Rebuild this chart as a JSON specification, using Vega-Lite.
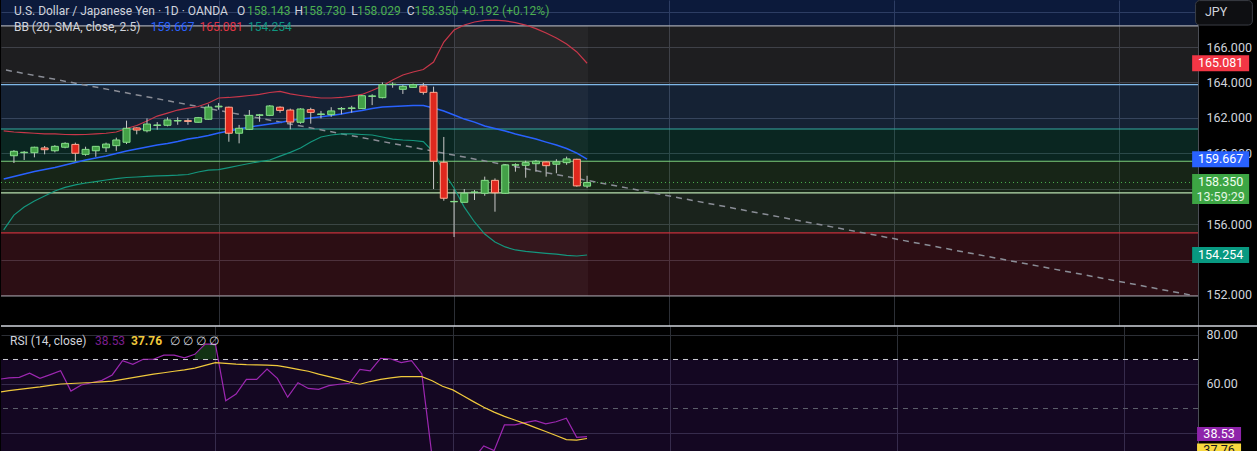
{
  "$schema": "https://vega.github.io/schema/vega-lite/v6.json",
  "background": "#000000",
  "padding": 0,
  "spacing": 0,
  "bounds": "flush",
  "config": {
    "font": "Roboto",
    "view": {"stroke": null}
  },
  "datasets": {
    "zones": [
      {"zone": "z1", "lo": 167.19, "hi": 168.654},
      {"zone": "z2", "lo": 163.88, "hi": 167.19},
      {"zone": "z3", "lo": 161.37, "hi": 163.88},
      {"zone": "z4", "lo": 159.55, "hi": 161.37},
      {"zone": "z5", "lo": 157.76, "hi": 159.55},
      {"zone": "z6", "lo": 155.50, "hi": 157.76},
      {"zone": "z7", "lo": 151.94, "hi": 155.50}
    ],
    "levels": [
      {"name": "b1", "level": 167.19},
      {"name": "b2", "level": 163.88},
      {"name": "b3", "level": 161.37},
      {"name": "b4", "level": 159.55},
      {"name": "b5", "level": 157.76},
      {"name": "b6", "level": 155.50},
      {"name": "b7", "level": 151.94}
    ],
    "trend": [
      {"i": -0.775, "p": 164.70},
      {"i": 115.2, "p": 151.97}
    ],
    "candles": [
      {"i": 0, "o": 159.86, "h": 160.18, "l": 159.45, "c": 160.11},
      {"i": 1, "o": 160.03, "h": 160.13, "l": 159.62, "c": 160.06},
      {"i": 2, "o": 160.03, "h": 160.37, "l": 159.77, "c": 160.34},
      {"i": 3, "o": 160.30, "h": 160.41, "l": 159.94, "c": 160.20},
      {"i": 4, "o": 160.14, "h": 160.46, "l": 160.05, "c": 160.39},
      {"i": 5, "o": 160.34, "h": 160.62, "l": 160.28, "c": 160.56},
      {"i": 6, "o": 160.50, "h": 160.60, "l": 159.56, "c": 160.00},
      {"i": 7, "o": 159.94, "h": 160.37, "l": 159.86, "c": 160.22},
      {"i": 8, "o": 160.14, "h": 160.41, "l": 159.80, "c": 160.39},
      {"i": 9, "o": 160.31, "h": 160.60, "l": 160.07, "c": 160.52},
      {"i": 10, "o": 160.43, "h": 160.88, "l": 160.14, "c": 160.75},
      {"i": 11, "o": 160.62, "h": 161.84, "l": 160.52, "c": 161.41},
      {"i": 12, "o": 161.43, "h": 161.46, "l": 161.07, "c": 161.31},
      {"i": 13, "o": 161.27, "h": 161.97, "l": 161.18, "c": 161.65},
      {"i": 14, "o": 161.57, "h": 161.76, "l": 161.33, "c": 161.60},
      {"i": 15, "o": 161.58, "h": 162.03, "l": 161.52, "c": 161.88},
      {"i": 16, "o": 161.82, "h": 162.03, "l": 161.61, "c": 161.85},
      {"i": 17, "o": 161.84, "h": 161.97, "l": 161.61, "c": 161.80},
      {"i": 18, "o": 161.75, "h": 162.05, "l": 161.73, "c": 162.01},
      {"i": 19, "o": 161.92, "h": 162.76, "l": 161.90, "c": 162.61},
      {"i": 20, "o": 162.62, "h": 162.84, "l": 162.46, "c": 162.66},
      {"i": 21, "o": 162.60, "h": 162.63, "l": 160.65, "c": 161.13},
      {"i": 22, "o": 161.13, "h": 161.60, "l": 160.56, "c": 161.41},
      {"i": 23, "o": 161.35, "h": 162.44, "l": 161.31, "c": 162.14},
      {"i": 24, "o": 162.14, "h": 162.22, "l": 161.78, "c": 162.17},
      {"i": 25, "o": 162.14, "h": 162.72, "l": 162.10, "c": 162.67},
      {"i": 26, "o": 162.60, "h": 162.65, "l": 162.29, "c": 162.42},
      {"i": 27, "o": 162.44, "h": 162.52, "l": 161.35, "c": 161.76},
      {"i": 28, "o": 161.75, "h": 162.54, "l": 161.67, "c": 162.50},
      {"i": 29, "o": 162.46, "h": 162.57, "l": 161.67, "c": 162.31},
      {"i": 30, "o": 162.19, "h": 162.39, "l": 161.97, "c": 162.22},
      {"i": 31, "o": 162.18, "h": 162.60, "l": 162.06, "c": 162.39},
      {"i": 32, "o": 162.50, "h": 162.61, "l": 162.20, "c": 162.53},
      {"i": 33, "o": 162.53, "h": 162.68, "l": 162.29, "c": 162.56},
      {"i": 34, "o": 162.52, "h": 163.29, "l": 162.50, "c": 163.25},
      {"i": 35, "o": 163.21, "h": 163.33, "l": 162.72, "c": 163.24},
      {"i": 36, "o": 163.14, "h": 164.00, "l": 163.10, "c": 163.87},
      {"i": 37, "o": 163.88, "h": 164.00, "l": 163.70, "c": 163.90},
      {"i": 38, "o": 163.61, "h": 163.85, "l": 163.35, "c": 163.78},
      {"i": 39, "o": 163.72, "h": 163.93, "l": 163.70, "c": 163.87},
      {"i": 40, "o": 163.80, "h": 163.97, "l": 163.31, "c": 163.44},
      {"i": 41, "o": 163.44, "h": 163.76, "l": 157.98, "c": 159.55},
      {"i": 42, "o": 159.49, "h": 160.92, "l": 157.32, "c": 157.46},
      {"i": 43, "o": 157.26, "h": 157.96, "l": 155.27, "c": 157.28},
      {"i": 44, "o": 157.23, "h": 157.98, "l": 157.23, "c": 157.74},
      {"i": 45, "o": 157.79, "h": 157.92, "l": 157.36, "c": 157.81},
      {"i": 46, "o": 157.74, "h": 158.68, "l": 157.60, "c": 158.47},
      {"i": 47, "o": 158.47, "h": 158.58, "l": 156.70, "c": 157.77},
      {"i": 48, "o": 157.74, "h": 159.39, "l": 157.70, "c": 159.34},
      {"i": 49, "o": 159.33, "h": 159.43, "l": 158.96, "c": 159.35},
      {"i": 50, "o": 159.32, "h": 159.58, "l": 158.62, "c": 159.47},
      {"i": 51, "o": 159.41, "h": 159.62, "l": 158.96, "c": 159.55},
      {"i": 52, "o": 159.51, "h": 159.55, "l": 158.68, "c": 159.30},
      {"i": 53, "o": 159.38, "h": 159.66, "l": 158.87, "c": 159.52},
      {"i": 54, "o": 159.47, "h": 159.81, "l": 159.35, "c": 159.68},
      {"i": 55, "o": 159.66, "h": 159.69, "l": 158.11, "c": 158.158},
      {"i": 56, "o": 158.143, "h": 158.730, "l": 158.029, "c": 158.350}
    ],
    "bb": [
      {"i": -1, "u": 161.26, "m": 158.55, "l": 155.67},
      {"i": 0, "u": 161.20, "m": 158.69, "l": 156.51},
      {"i": 1, "u": 161.16, "m": 158.83, "l": 156.96},
      {"i": 2, "u": 161.13, "m": 158.97, "l": 157.30},
      {"i": 3, "u": 161.10, "m": 159.08, "l": 157.59},
      {"i": 4, "u": 161.09, "m": 159.20, "l": 157.87},
      {"i": 5, "u": 161.06, "m": 159.34, "l": 158.07},
      {"i": 6, "u": 161.05, "m": 159.48, "l": 158.21},
      {"i": 7, "u": 161.06, "m": 159.62, "l": 158.32},
      {"i": 8, "u": 161.09, "m": 159.73, "l": 158.40},
      {"i": 9, "u": 161.13, "m": 159.84, "l": 158.49},
      {"i": 10, "u": 161.20, "m": 159.99, "l": 158.57},
      {"i": 11, "u": 161.40, "m": 160.13, "l": 158.63},
      {"i": 12, "u": 161.57, "m": 160.24, "l": 158.66},
      {"i": 13, "u": 161.82, "m": 160.35, "l": 158.69},
      {"i": 14, "u": 162.10, "m": 160.47, "l": 158.72},
      {"i": 15, "u": 162.27, "m": 160.55, "l": 158.74},
      {"i": 16, "u": 162.44, "m": 160.66, "l": 158.76},
      {"i": 17, "u": 162.55, "m": 160.80, "l": 158.80},
      {"i": 18, "u": 162.64, "m": 160.89, "l": 158.94},
      {"i": 19, "u": 162.84, "m": 161.00, "l": 159.05},
      {"i": 20, "u": 163.12, "m": 161.14, "l": 159.08},
      {"i": 21, "u": 163.15, "m": 161.26, "l": 159.19},
      {"i": 22, "u": 163.20, "m": 161.37, "l": 159.31},
      {"i": 23, "u": 163.26, "m": 161.48, "l": 159.42},
      {"i": 24, "u": 163.32, "m": 161.57, "l": 159.53},
      {"i": 25, "u": 163.43, "m": 161.65, "l": 159.62},
      {"i": 26, "u": 163.49, "m": 161.74, "l": 159.84},
      {"i": 27, "u": 163.35, "m": 161.85, "l": 160.05},
      {"i": 28, "u": 163.26, "m": 161.93, "l": 160.30},
      {"i": 29, "u": 163.18, "m": 161.99, "l": 160.64},
      {"i": 30, "u": 163.12, "m": 162.06, "l": 160.92},
      {"i": 31, "u": 163.12, "m": 162.13, "l": 161.03},
      {"i": 32, "u": 163.15, "m": 162.22, "l": 161.09},
      {"i": 33, "u": 163.23, "m": 162.33, "l": 161.09},
      {"i": 34, "u": 163.32, "m": 162.41, "l": 161.06},
      {"i": 35, "u": 163.54, "m": 162.53, "l": 161.03},
      {"i": 36, "u": 163.80, "m": 162.61, "l": 160.92},
      {"i": 37, "u": 164.14, "m": 162.64, "l": 160.80},
      {"i": 38, "u": 164.42, "m": 162.67, "l": 160.75},
      {"i": 39, "u": 164.59, "m": 162.70, "l": 160.72},
      {"i": 40, "u": 164.73, "m": 162.70, "l": 160.66},
      {"i": 41, "u": 165.15, "m": 162.56, "l": 160.07},
      {"i": 42, "u": 166.28, "m": 162.39, "l": 158.94},
      {"i": 43, "u": 166.96, "m": 162.16, "l": 158.04},
      {"i": 44, "u": 167.24, "m": 161.93, "l": 156.96},
      {"i": 45, "u": 167.41, "m": 161.76, "l": 156.12},
      {"i": 46, "u": 167.50, "m": 161.54, "l": 155.44},
      {"i": 47, "u": 167.52, "m": 161.40, "l": 154.99},
      {"i": 48, "u": 167.47, "m": 161.26, "l": 154.71},
      {"i": 49, "u": 167.38, "m": 161.09, "l": 154.54},
      {"i": 50, "u": 167.24, "m": 160.95, "l": 154.46},
      {"i": 51, "u": 167.04, "m": 160.80, "l": 154.40},
      {"i": 52, "u": 166.79, "m": 160.63, "l": 154.35},
      {"i": 53, "u": 166.51, "m": 160.47, "l": 154.30},
      {"i": 54, "u": 166.17, "m": 160.27, "l": 154.23},
      {"i": 55, "u": 165.72, "m": 160.01, "l": 154.20},
      {"i": 56, "u": 165.081, "m": 159.667, "l": 154.254}
    ],
    "rsi": [
      {"i": -1, "rsi": 61.9, "ma": 56.6},
      {"i": 0, "rsi": 62.5, "ma": 57.3},
      {"i": 1, "rsi": 62.7, "ma": 57.8},
      {"i": 2, "rsi": 64.4, "ma": 58.3},
      {"i": 3, "rsi": 62.3, "ma": 58.8},
      {"i": 4, "rsi": 63.8, "ma": 59.4},
      {"i": 5, "rsi": 65.4, "ma": 60.0},
      {"i": 6, "rsi": 57.1, "ma": 60.2},
      {"i": 7, "rsi": 59.6, "ma": 60.4},
      {"i": 8, "rsi": 60.5, "ma": 60.6},
      {"i": 9, "rsi": 61.5, "ma": 60.9},
      {"i": 10, "rsi": 63.7, "ma": 61.2},
      {"i": 11, "rsi": 69.5, "ma": 61.9},
      {"i": 12, "rsi": 68.0, "ma": 62.6},
      {"i": 13, "rsi": 70.1, "ma": 63.3},
      {"i": 14, "rsi": 70.1, "ma": 64.0},
      {"i": 15, "rsi": 71.8, "ma": 64.6},
      {"i": 16, "rsi": 71.8, "ma": 65.2},
      {"i": 17, "rsi": 70.7, "ma": 65.8},
      {"i": 18, "rsi": 72.1, "ma": 66.5},
      {"i": 19, "rsi": 76.3, "ma": 67.6},
      {"i": 20, "rsi": 76.3, "ma": 68.7},
      {"i": 21, "rsi": 53.2, "ma": 68.4},
      {"i": 22, "rsi": 55.9, "ma": 68.1},
      {"i": 23, "rsi": 61.9, "ma": 67.9},
      {"i": 24, "rsi": 61.9, "ma": 67.8},
      {"i": 25, "rsi": 66.1, "ma": 67.7},
      {"i": 26, "rsi": 62.3, "ma": 67.5},
      {"i": 27, "rsi": 54.6, "ma": 66.8},
      {"i": 28, "rsi": 60.5, "ma": 66.0},
      {"i": 29, "rsi": 58.2, "ma": 65.2},
      {"i": 30, "rsi": 57.8, "ma": 64.0},
      {"i": 31, "rsi": 59.3, "ma": 63.0},
      {"i": 32, "rsi": 59.9, "ma": 62.0},
      {"i": 33, "rsi": 60.3, "ma": 60.8},
      {"i": 34, "rsi": 66.0, "ma": 59.9},
      {"i": 35, "rsi": 65.4, "ma": 61.0},
      {"i": 36, "rsi": 70.5, "ma": 61.9},
      {"i": 37, "rsi": 70.2, "ma": 62.5},
      {"i": 38, "rsi": 68.7, "ma": 63.0},
      {"i": 39, "rsi": 69.5, "ma": 63.0},
      {"i": 40, "rsi": 64.1, "ma": 63.0},
      {"i": 41, "rsi": 30.0, "ma": 61.3},
      {"i": 42, "rsi": 26.0, "ma": 59.1},
      {"i": 43, "rsi": 25.5, "ma": 57.6},
      {"i": 44, "rsi": 28.0, "ma": 55.2},
      {"i": 45, "rsi": 29.5, "ma": 52.8},
      {"i": 46, "rsi": 34.7, "ma": 50.5},
      {"i": 47, "rsi": 32.8, "ma": 48.5},
      {"i": 48, "rsi": 43.3, "ma": 46.8},
      {"i": 49, "rsi": 43.3, "ma": 45.3},
      {"i": 50, "rsi": 44.2, "ma": 43.8},
      {"i": 51, "rsi": 45.0, "ma": 42.2},
      {"i": 52, "rsi": 43.7, "ma": 40.6},
      {"i": 53, "rsi": 44.6, "ma": 39.0},
      {"i": 54, "rsi": 46.0, "ma": 37.3},
      {"i": 55, "rsi": 38.2, "ma": 37.1},
      {"i": 56, "rsi": 38.53, "ma": 37.76}
    ]
  },
  "vconcat": [
    {
      "width": 1197,
      "height": 326,
      "layer": [
        {
          "data": {"name": "zones"},
          "mark": {"type": "rect", "fillOpacity": 0.25},
          "encoding": {
            "y": {
              "field": "lo", "type": "quantitative",
              "scale": {"domain": [150.246, 168.654], "nice": false, "zero": false},
              "axis": {
                "orient": "right", "title": null, "format": ".3f",
                "values": [152, 154, 156, 158, 160, 162, 164, 166, 168],
                "labelExpr": "indexof([154, 158, 168], datum.value) >= 0 ? '' : datum.label",
                "grid": true, "gridColor": "#2c2f36", "ticks": false, "zindex": 0,
                "labelPadding": 8, "labelColor": "#d1d4dc", "labelFontSize": 12.5,
                "domain": true, "domainColor": "#4a4d55",
                "minExtent": 60, "maxExtent": 60, "labelOverlap": false, "labelBound": false
              }
            },
            "y2": {"field": "hi"},
            "fill": {
              "field": "zone", "type": "nominal", "legend": null,
              "scale": {
                "domain": ["z1", "z2", "z3", "z4", "z5", "z6", "z7"],
                "range": ["#3068ec", "#787880", "#5488d0", "#289884", "#5c945c", "#688c70", "#b03850"]
              }
            }
          }
        },
        {
          "data": {"values": [{}]},
          "mark": {"type": "rect", "fill": "#ffffff", "fillOpacity": 0.04},
          "encoding": {
            "x": {"datum": 43.1},
            "x2": {"datum": 56.1},
            "y": {"datum": 151.94},
            "y2": {"datum": 167.19}
          }
        },
        {
          "data": {"name": "levels"},
          "mark": {"type": "rule", "strokeWidth": 1.2},
          "encoding": {
            "y": {"field": "level", "type": "quantitative"},
            "stroke": {
              "field": "name", "type": "nominal", "legend": null,
              "scale": {
                "domain": ["b1", "b2", "b3", "b4", "b5", "b6", "b7"],
                "range": ["#a3a6ae", "#7fb8e8", "#34a99f", "#7ccf7c", "#b9e0b0", "#c62f3a", "#a0a0a6"]
              }
            }
          }
        },
        {
          "data": {"name": "trend"},
          "mark": {"type": "line", "stroke": "#8a8d96", "strokeWidth": 1.5, "strokeDash": [6, 5], "clip": true},
          "encoding": {
            "x": {"field": "i", "type": "quantitative"},
            "y": {"field": "p", "type": "quantitative"}
          }
        },
        {
          "data": {"name": "bb"},
          "mark": {"type": "line", "stroke": "#c8374a", "strokeWidth": 1.2, "clip": true},
          "encoding": {
            "x": {"field": "i", "type": "quantitative"},
            "y": {"field": "u", "type": "quantitative"}
          }
        },
        {
          "data": {"name": "bb"},
          "mark": {"type": "line", "stroke": "#2962ff", "strokeWidth": 1.5, "clip": true},
          "encoding": {
            "x": {"field": "i", "type": "quantitative"},
            "y": {"field": "m", "type": "quantitative"}
          }
        },
        {
          "data": {"name": "bb"},
          "mark": {"type": "line", "stroke": "#14967e", "strokeWidth": 1.2, "clip": true},
          "encoding": {
            "x": {"field": "i", "type": "quantitative"},
            "y": {"field": "l", "type": "quantitative"}
          }
        },
        {
          "data": {"name": "candles"},
          "transform": [{"filter": "datum.i == 56"}],
          "mark": {"type": "rule", "stroke": "#4caf50", "strokeWidth": 1, "strokeDash": [1, 3]},
          "encoding": {
            "y": {"field": "c", "type": "quantitative"}
          }
        },
        {
          "data": {"name": "candles"},
          "mark": {"type": "rule", "stroke": "#c8c8c8", "strokeWidth": 1},
          "encoding": {
            "x": {
              "field": "i", "type": "quantitative",
              "scale": {"domain": [-0.775, 115.2], "nice": false, "zero": false},
              "axis": {
                "values": [20, 43, 64, 86, 108], "grid": true, "gridColor": "#2c2f36",
                "labels": false, "ticks": false, "domain": false, "title": null, "zindex": 0,
                "minExtent": 0, "maxExtent": 0
              }
            },
            "y": {"field": "l", "type": "quantitative"},
            "y2": {"field": "h"}
          }
        },
        {
          "data": {"name": "candles"},
          "mark": {"type": "bar", "width": 7, "strokeWidth": 1},
          "encoding": {
            "x": {"field": "i", "type": "quantitative"},
            "y": {"field": "o", "type": "quantitative"},
            "y2": {"field": "c"},
            "fill": {"condition": {"test": "datum.c >= datum.o", "value": "#43a047"}, "value": "#e0281e"},
            "stroke": {"condition": {"test": "datum.c >= datum.o", "value": "#86e08a"}, "value": "#ffab91"}
          }
        },
        {
          "data": {"name": "bb"},
          "transform": [
            {"filter": "datum.i == 56"},
            {"fold": ["u", "m", "l"], "as": ["band", "val"]}
          ],
          "mark": {"type": "point", "shape": "M-1,-0.28L1,-0.28L1,0.28L-1,0.28Z", "size": 3249, "filled": true, "opacity": 1, "clip": false},
          "encoding": {
            "x": {"datum": 117.9},
            "y": {"field": "val", "type": "quantitative"},
            "color": {
              "field": "band", "type": "nominal", "legend": null,
              "scale": {"domain": ["u", "m", "l"], "range": ["#f23645", "#2962ff", "#089981"]}
            }
          }
        },
        {
          "data": {"name": "bb"},
          "transform": [
            {"filter": "datum.i == 56"},
            {"fold": ["u", "m", "l"], "as": ["band", "val"]}
          ],
          "mark": {"type": "text", "color": "#ffffff", "fontSize": 12.5, "align": "center", "baseline": "middle", "clip": false},
          "encoding": {
            "x": {"datum": 117.9},
            "y": {"field": "val", "type": "quantitative"},
            "text": {"field": "val", "type": "quantitative", "format": ".3f"}
          }
        },
        {
          "data": {"name": "candles"},
          "transform": [{"filter": "datum.i == 56"}],
          "mark": {"type": "point", "shape": "M-1,-0.526L1,-0.526L1,0.526L-1,0.526Z", "size": 3249, "filled": true, "opacity": 1, "color": "#3da544", "yOffset": 6.5, "clip": false},
          "encoding": {
            "x": {"datum": 117.9},
            "y": {"field": "c", "type": "quantitative"}
          }
        },
        {
          "data": {"name": "candles"},
          "transform": [{"filter": "datum.i == 56"}],
          "mark": {"type": "text", "color": "#f0fff0", "fontSize": 12.5, "align": "center", "baseline": "middle", "clip": false},
          "encoding": {
            "x": {"datum": 117.9},
            "y": {"field": "c", "type": "quantitative"},
            "text": {"field": "c", "type": "quantitative", "format": ".3f"}
          }
        },
        {
          "data": {"name": "candles"},
          "transform": [{"filter": "datum.i == 56"}],
          "mark": {"type": "text", "color": "#e3f5e3", "fontSize": 12.5, "align": "center", "baseline": "middle", "dy": 14.5, "clip": false},
          "encoding": {
            "x": {"datum": 117.9},
            "y": {"field": "c", "type": "quantitative"},
            "text": {"value": "13:59:29"}
          }
        },
        {
          "data": {"values": [{}]},
          "mark": {"type": "rect", "fill": "#0e0f12", "stroke": "#3a3d45", "strokeWidth": 1, "cornerRadius": 4, "clip": false},
          "encoding": {
            "x": {"datum": 115.45},
            "x2": {"datum": 121.0},
            "y": {"datum": 168.62},
            "y2": {"datum": 167.24}
          }
        },
        {
          "data": {"values": [{}]},
          "mark": {"type": "text", "color": "#d1d4dc", "fontSize": 12.5, "align": "left", "baseline": "middle", "clip": false},
          "encoding": {
            "x": {"datum": 116.37},
            "y": {"datum": 167.95},
            "text": {"value": "JPY"}
          }
        },
        {
          "data": {"values": [{}]},
          "mark": {"type": "text", "color": "#d1d4dc", "fontSize": 12, "align": "left", "baseline": "middle"},
          "encoding": {
            "x": {"datum": 0},
            "y": {"datum": 168.03},
            "text": {"value": "U.S. Dollar / Japanese Yen · 1D · OANDA"}
          }
        },
        {
          "data": {"values": [{}]},
          "mark": {"type": "text", "color": "#d1d4dc", "fontSize": 12, "align": "left", "baseline": "middle"},
          "encoding": {
            "x": {"datum": 21.8},
            "y": {"datum": 168.03},
            "text": {"value": "O"}
          }
        },
        {
          "data": {"name": "candles"},
          "transform": [{"filter": "datum.i == 56"}],
          "mark": {"type": "text", "color": "#4caf50", "fontSize": 12, "align": "left", "baseline": "middle"},
          "encoding": {
            "x": {"datum": 22.77},
            "y": {"datum": 168.03},
            "text": {"field": "o", "type": "quantitative", "format": ".3f"}
          }
        },
        {
          "data": {"values": [{}]},
          "mark": {"type": "text", "color": "#d1d4dc", "fontSize": 12, "align": "left", "baseline": "middle"},
          "encoding": {
            "x": {"datum": 27.42},
            "y": {"datum": 168.03},
            "text": {"value": "H"}
          }
        },
        {
          "data": {"name": "candles"},
          "transform": [{"filter": "datum.i == 56"}],
          "mark": {"type": "text", "color": "#4caf50", "fontSize": 12, "align": "left", "baseline": "middle"},
          "encoding": {
            "x": {"datum": 28.19},
            "y": {"datum": 168.03},
            "text": {"field": "h", "type": "quantitative", "format": ".3f"}
          }
        },
        {
          "data": {"values": [{}]},
          "mark": {"type": "text", "color": "#d1d4dc", "fontSize": 12, "align": "left", "baseline": "middle"},
          "encoding": {
            "x": {"datum": 32.95},
            "y": {"datum": 168.03},
            "text": {"value": "L"}
          }
        },
        {
          "data": {"name": "candles"},
          "transform": [{"filter": "datum.i == 56"}],
          "mark": {"type": "text", "color": "#4caf50", "fontSize": 12, "align": "left", "baseline": "middle"},
          "encoding": {
            "x": {"datum": 33.52},
            "y": {"datum": 168.03},
            "text": {"field": "l", "type": "quantitative", "format": ".3f"}
          }
        },
        {
          "data": {"values": [{}]},
          "mark": {"type": "text", "color": "#d1d4dc", "fontSize": 12, "align": "left", "baseline": "middle"},
          "encoding": {
            "x": {"datum": 38.37},
            "y": {"datum": 168.03},
            "text": {"value": "C"}
          }
        },
        {
          "data": {"name": "candles"},
          "transform": [{"filter": "datum.i == 56"}],
          "mark": {"type": "text", "color": "#4caf50", "fontSize": 12, "align": "left", "baseline": "middle"},
          "encoding": {
            "x": {"datum": 39.14},
            "y": {"datum": 168.03},
            "text": {"field": "c", "type": "quantitative", "format": ".3f"}
          }
        },
        {
          "data": {"values": [{}]},
          "mark": {"type": "text", "color": "#4caf50", "fontSize": 12, "align": "left", "baseline": "middle"},
          "encoding": {
            "x": {"datum": 43.79},
            "y": {"datum": 168.03},
            "text": {"value": "+0.192 (+0.12%)"}
          }
        },
        {
          "data": {"values": [{}]},
          "mark": {"type": "text", "color": "#d1d4dc", "fontSize": 12, "align": "left", "baseline": "middle"},
          "encoding": {
            "x": {"datum": 0},
            "y": {"datum": 167.13},
            "text": {"value": "BB (20, SMA, close, 2.5)"}
          }
        },
        {
          "data": {"name": "bb"},
          "transform": [{"filter": "datum.i == 56"}],
          "mark": {"type": "text", "color": "#2962ff", "fontSize": 12, "align": "left", "baseline": "middle"},
          "encoding": {
            "x": {"datum": 13.37},
            "y": {"datum": 167.13},
            "text": {"field": "m", "type": "quantitative", "format": ".3f"}
          }
        },
        {
          "data": {"name": "bb"},
          "transform": [{"filter": "datum.i == 56"}],
          "mark": {"type": "text", "color": "#e03444", "fontSize": 12, "align": "left", "baseline": "middle"},
          "encoding": {
            "x": {"datum": 18.12},
            "y": {"datum": 167.13},
            "text": {"field": "u", "type": "quantitative", "format": ".3f"}
          }
        },
        {
          "data": {"name": "bb"},
          "transform": [{"filter": "datum.i == 56"}],
          "mark": {"type": "text", "color": "#0f9680", "fontSize": 12, "align": "left", "baseline": "middle"},
          "encoding": {
            "x": {"datum": 22.87},
            "y": {"datum": 167.13},
            "text": {"field": "l", "type": "quantitative", "format": ".3f"}
          }
        }
      ]
    },
    {
      "width": 1197,
      "height": 125,
      "layer": [
        {
          "data": {"values": [{}]},
          "mark": {"type": "rect", "fill": "#5a1f9c", "fillOpacity": 0.22},
          "encoding": {
            "y": {
              "datum": 70, "type": "quantitative",
              "scale": {"domain": [32.65, 83.67], "nice": false, "zero": false},
              "axis": {
                "orient": "right", "title": null, "format": ".2f",
                "values": [40, 60, 80],
                "labelExpr": "datum.value == 40 ? '' : datum.label",
                "grid": true, "gridColor": "#2c2f36", "ticks": false, "zindex": 0,
                "labelPadding": 8, "labelColor": "#d1d4dc", "labelFontSize": 12.5,
                "domain": true, "domainColor": "#4a4d55",
                "minExtent": 60, "maxExtent": 60, "labelOverlap": false, "labelBound": false
              }
            },
            "y2": {"datum": 30}
          }
        },
        {
          "data": {"name": "rsi"},
          "transform": [{"filter": "datum.i >= 18 && datum.i <= 20"}],
          "mark": {"type": "area", "fill": "#2e7d32", "fillOpacity": 0.4},
          "encoding": {
            "x": {"field": "i", "type": "quantitative"},
            "y": {"field": "rsi", "type": "quantitative"},
            "y2": {"datum": 70}
          }
        },
        {
          "data": {"values": [{}]},
          "mark": {"type": "rule", "stroke": "#c8cad0", "strokeWidth": 1, "strokeDash": [5, 5]},
          "encoding": {
            "y": {"datum": 70}
          }
        },
        {
          "data": {"values": [{}]},
          "mark": {"type": "rule", "stroke": "#5d606b", "strokeWidth": 1, "strokeDash": [5, 5]},
          "encoding": {
            "y": {"datum": 50}
          }
        },
        {
          "data": {"name": "rsi"},
          "mark": {"type": "line", "stroke": "#9c27b0", "strokeWidth": 1.2, "clip": true},
          "encoding": {
            "x": {
              "field": "i", "type": "quantitative",
              "scale": {"domain": [-0.775, 115.2], "nice": false, "zero": false},
              "axis": {
                "values": [20, 43, 64, 86, 108], "grid": true, "gridColor": "#2c2f36",
                "labels": false, "ticks": false, "domain": false, "title": null, "zindex": 0,
                "minExtent": 0, "maxExtent": 0
              }
            },
            "y": {"field": "rsi", "type": "quantitative"}
          }
        },
        {
          "data": {"name": "rsi"},
          "mark": {"type": "line", "stroke": "#f0c93c", "strokeWidth": 1.2, "clip": true},
          "encoding": {
            "x": {"field": "i", "type": "quantitative"},
            "y": {"field": "ma", "type": "quantitative"}
          }
        },
        {
          "data": {"name": "rsi"},
          "transform": [{"filter": "datum.i == 56"}],
          "mark": {"type": "point", "shape": "M-1,-0.318L1,-0.318L1,0.318L-1,0.318Z", "size": 1936, "filled": true, "opacity": 1, "color": "#8e24aa", "yOffset": -2.6, "clip": false},
          "encoding": {
            "x": {"datum": 117.24},
            "y": {"field": "rsi", "type": "quantitative"}
          }
        },
        {
          "data": {"name": "rsi"},
          "transform": [{"filter": "datum.i == 56"}],
          "mark": {"type": "text", "color": "#ffffff", "fontSize": 12.5, "align": "center", "baseline": "middle", "yOffset": -2.6, "clip": false},
          "encoding": {
            "x": {"datum": 117.24},
            "y": {"field": "rsi", "type": "quantitative"},
            "text": {"field": "rsi", "type": "quantitative", "format": ".2f"}
          }
        },
        {
          "data": {"name": "rsi"},
          "transform": [{"filter": "datum.i == 56"}],
          "mark": {"type": "point", "shape": "M-1,-0.318L1,-0.318L1,0.318L-1,0.318Z", "size": 1936, "filled": true, "opacity": 1, "color": "#f7d83f", "yOffset": 12, "clip": false},
          "encoding": {
            "x": {"datum": 117.24},
            "y": {"field": "ma", "type": "quantitative"}
          }
        },
        {
          "data": {"name": "rsi"},
          "transform": [{"filter": "datum.i == 56"}],
          "mark": {"type": "text", "color": "#131722", "fontSize": 12.5, "align": "center", "baseline": "middle", "yOffset": 12, "clip": false},
          "encoding": {
            "x": {"datum": 117.24},
            "y": {"field": "ma", "type": "quantitative"},
            "text": {"field": "ma", "type": "quantitative", "format": ".2f"}
          }
        },
        {
          "data": {"values": [{}]},
          "mark": {"type": "text", "color": "#d1d4dc", "fontSize": 12, "align": "left", "baseline": "middle"},
          "encoding": {
            "x": {"datum": 0.1},
            "y": {"datum": 77.55},
            "text": {"value": "RSI (14, close)"}
          }
        },
        {
          "data": {"name": "rsi"},
          "transform": [{"filter": "datum.i == 56"}],
          "mark": {"type": "text", "color": "#7b1f8f", "fontSize": 12, "align": "left", "baseline": "middle"},
          "encoding": {
            "x": {"datum": 8.33},
            "y": {"datum": 77.55},
            "text": {"field": "rsi", "type": "quantitative", "format": ".2f"}
          }
        },
        {
          "data": {"name": "rsi"},
          "transform": [{"filter": "datum.i == 56"}],
          "mark": {"type": "text", "color": "#f0c93c", "fontSize": 12, "fontWeight": "bold", "align": "left", "baseline": "middle"},
          "encoding": {
            "x": {"datum": 11.82},
            "y": {"datum": 77.55},
            "text": {"field": "ma", "type": "quantitative", "format": ".2f"}
          }
        },
        {
          "data": {"values": [{}]},
          "mark": {"type": "text", "color": "#d1d4dc", "fontSize": 12, "align": "left", "baseline": "middle"},
          "encoding": {
            "x": {"datum": 15.6},
            "y": {"datum": 77.55},
            "text": {"value": "∅  ∅  ∅  ∅"}
          }
        },
        {
          "data": {"values": [{}]},
          "mark": {"type": "rule", "stroke": "#d1d4dc", "strokeWidth": 1.5, "clip": false},
          "encoding": {
            "x": {"datum": -0.775},
            "x2": {"datum": 121.0},
            "y": {"datum": 83.67}
          }
        }
      ]
    }
  ]
}
